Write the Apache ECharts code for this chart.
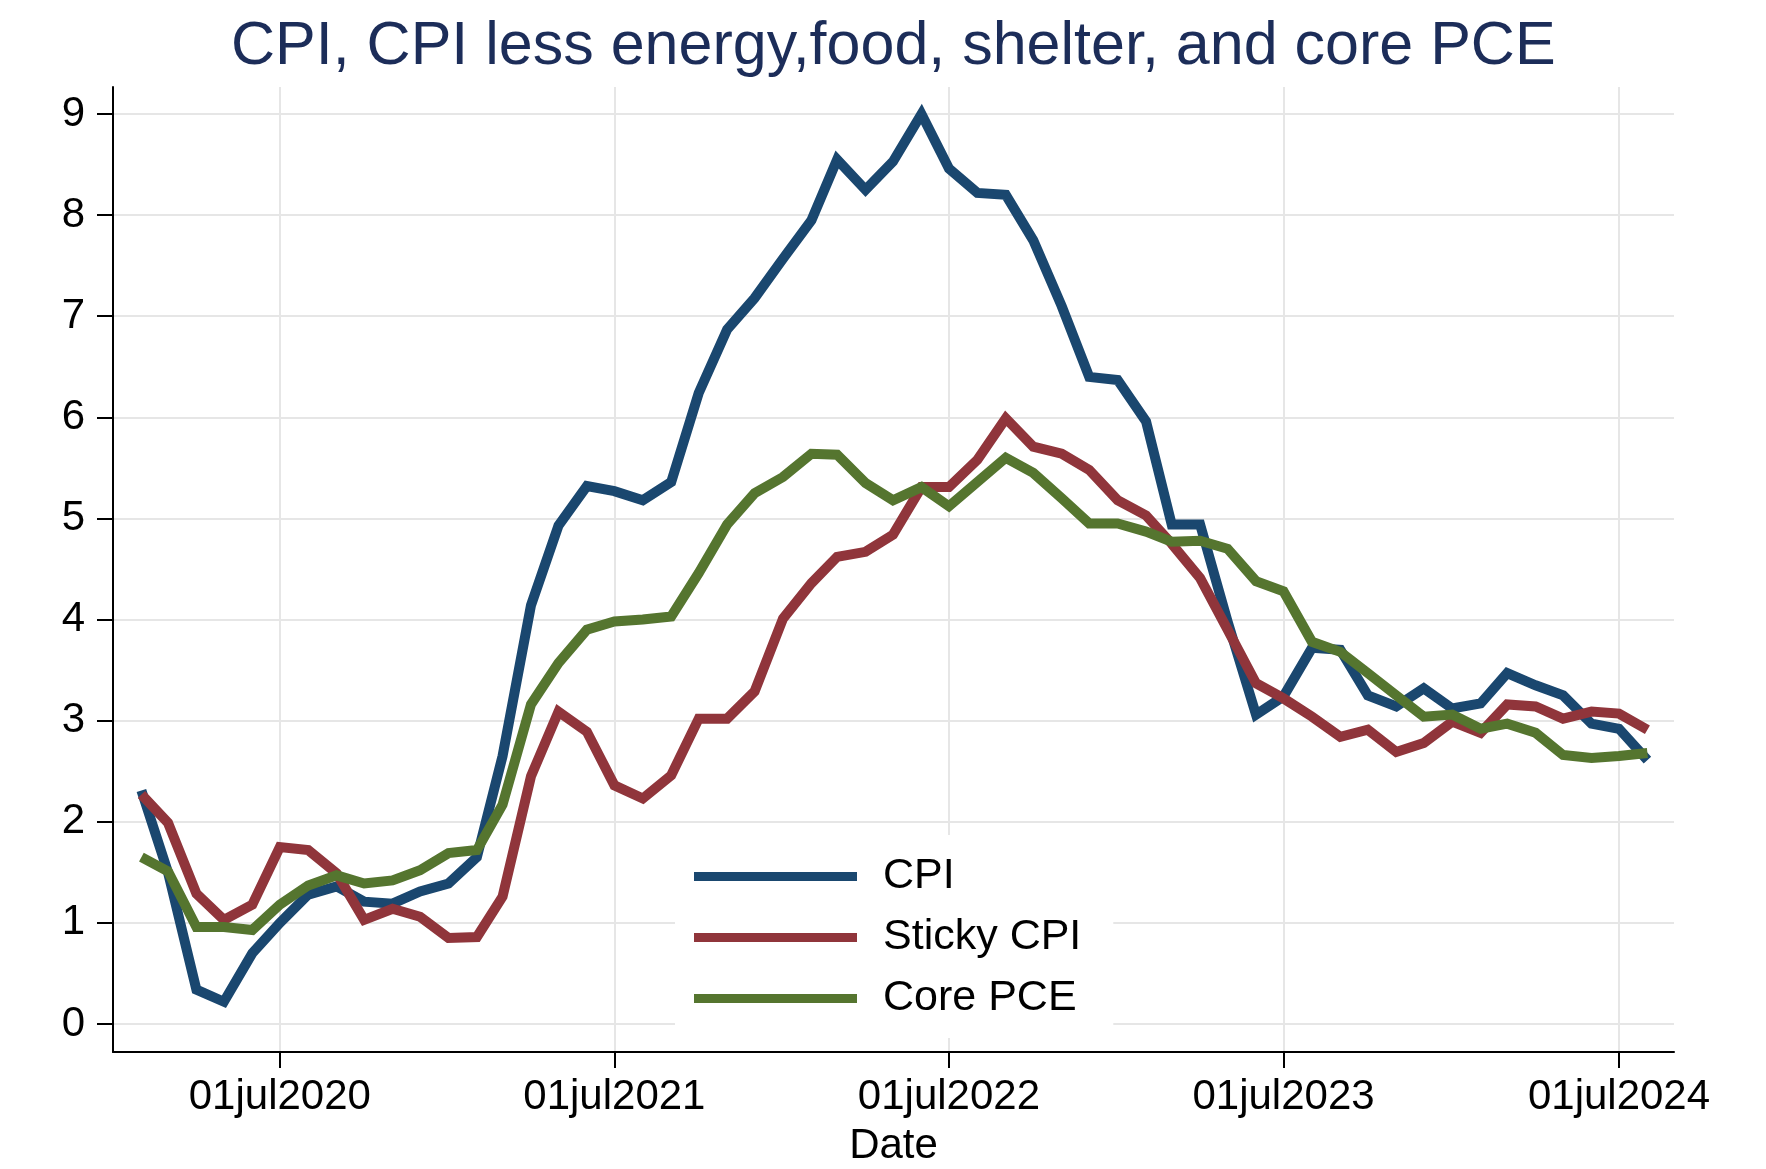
<!DOCTYPE html>
<html>
<head>
<meta charset="utf-8">
<script src="https://cdn.jsdelivr.net/npm/echarts@6/dist/echarts.min.js"></script>
<style>
html, body { margin: 0; padding: 0; background: #fff; }
#main { width: 1766px; height: 1169px; }
</style>
</head>
<body>
<div id="main"></div>
<script>
// monthly, Feb 2020 .. Aug 2024
var firstYear = 2020, firstMonth = 1; // Feb
var cpi = [
    2.31, 1.50, 0.34, 0.22, 0.70, 1.00, 1.28, 1.36, 1.21, 1.19, 1.31,
    1.39, 1.65, 2.65, 4.14, 4.93, 5.32, 5.27, 5.18, 5.36, 6.24, 6.87, 7.18,
    7.57, 7.95, 8.55, 8.25, 8.53, 9.00, 8.46, 8.22, 8.20, 7.75, 7.10, 6.40,
    6.37, 5.96, 4.94, 4.94, 3.98, 3.06, 3.24, 3.72, 3.70, 3.25, 3.14, 3.32,
    3.12, 3.17, 3.47, 3.35, 3.25, 2.97, 2.92, 2.61
];
var stickyCpi = [
    2.27, 1.99, 1.29, 1.03, 1.18, 1.75, 1.72, 1.49, 1.03, 1.14, 1.06,
    0.85, 0.86, 1.26, 2.45, 3.09, 2.89, 2.36, 2.23, 2.46, 3.02, 3.02, 3.29,
    4.01, 4.36, 4.62, 4.67, 4.84, 5.31, 5.31, 5.58, 5.99, 5.71, 5.64, 5.48,
    5.18, 5.03, 4.75, 4.41, 3.90, 3.37, 3.22, 3.04, 2.84, 2.91, 2.69, 2.78,
    2.99, 2.88, 3.16, 3.14, 3.02, 3.09, 3.07, 2.91
];
var corePce = [
    1.65, 1.51, 0.96, 0.96, 0.93, 1.18, 1.37, 1.47, 1.39, 1.42, 1.52,
    1.69, 1.72, 2.17, 3.16, 3.57, 3.90, 3.98, 4.00, 4.03, 4.46, 4.94, 5.25,
    5.41, 5.64, 5.63, 5.35, 5.18, 5.31, 5.12, 5.36, 5.60, 5.45, 5.20, 4.95,
    4.95, 4.87, 4.77, 4.78, 4.70, 4.38, 4.28, 3.78, 3.68, 3.47, 3.25, 3.04,
    3.06, 2.92, 2.97, 2.88, 2.66, 2.63, 2.65, 2.68
];
var seriesNames = ['CPI', 'Sticky CPI', 'Core PCE'];
var tickYears = [2020, 2021, 2022, 2023, 2024];
var tickLabels = ['01jul2020', '01jul2021', '01jul2022', '01jul2023', '01jul2024'];
var yTicks = [0, 1, 2, 3, 4, 5, 6, 7, 8, 9];

// x is a date in ms, on a plain value axis
var months = [];
for (var i = 0; i < cpi.length; i++) {
    months.push(new Date(firstYear, firstMonth + i, 1).getTime());
}
var tickTimes = tickYears.map(function (y) { return new Date(y, 6, 1).getTime(); });

function pairs(vals) {
    return vals.map(function (v, i) { return [months[i], v]; });
}

var font = 'Liberation Sans, Arial, Helvetica, sans-serif';
var gridColor = '#e6e6e6';

var myChart = echarts.init(document.getElementById('main'));
var option = {
    animation: false,
    color: ['#1a476f', '#90353b', '#55752f'],
    title: {
        text: 'CPI, CPI less energy,food, shelter, and core PCE',
        left: 231,
        top: 17,
        padding: 0,
        textStyle: { fontFamily: font, fontSize: 61, fontWeight: 'normal', color: '#1c2d59' }
    },
    legend: {
        data: seriesNames,
        orient: 'vertical',
        left: 675,
        top: 835,
        icon: 'rect',
        itemWidth: 163,
        itemHeight: 9,
        itemGap: 18,
        backgroundColor: '#fff',
        padding: [20, 32, 18, 19],
        textStyle: { fontFamily: font, fontSize: 43, color: '#000', padding: [0, 0, 0, 21] }
    },
    grid: {
        left: 113,
        right: 92,
        top: 87,
        bottom: 117,
        containLabel: false,
        outerBoundsMode: 'none'
    },
    xAxis: {
        type: 'value',
        min: new Date(2020, 0, 1).getTime(),
        max: new Date(2024, 7, 30).getTime(),
        name: 'Date',
        nameLocation: 'middle',
        nameGap: 73,
        nameTextStyle: { fontFamily: font, fontSize: 42, color: '#000' },
        axisLine: { onZero: false, lineStyle: { color: '#000', width: 2 } },
        axisTick: { customValues: tickTimes, length: 16, lineStyle: { color: '#000', width: 2 } },
        axisLabel: {
            customValues: tickTimes,
            fontFamily: font, fontSize: 42, color: '#000', margin: 24,
            formatter: function (val) {
                var k = tickTimes.indexOf(val);
                return k >= 0 ? tickLabels[k] : '';
            }
        },
        splitLine: { show: true, lineStyle: { color: gridColor, width: 2 } }
    },
    yAxis: {
        type: 'value',
        min: -0.277,
        max: 9.267,
        axisLine: { show: true, onZero: false, lineStyle: { color: '#000', width: 2 } },
        axisTick: { show: true, customValues: yTicks, length: 16, lineStyle: { color: '#000', width: 2 } },
        axisLabel: {
            customValues: yTicks,
            fontFamily: font, fontSize: 42, color: '#000', margin: 28
        },
        splitLine: { show: true, lineStyle: { color: gridColor, width: 2 } }
    },
    series: [
        {
            name: seriesNames[0],
            type: 'line',
            symbol: 'none',
            lineStyle: { width: 10, join: 'miter', cap: 'butt' },
            data: pairs(cpi)
        },
        {
            name: seriesNames[1],
            type: 'line',
            symbol: 'none',
            lineStyle: { width: 10, join: 'miter', cap: 'butt' },
            data: pairs(stickyCpi)
        },
        {
            name: seriesNames[2],
            type: 'line',
            symbol: 'none',
            lineStyle: { width: 10, join: 'miter', cap: 'butt' },
            data: pairs(corePce)
        }
    ]
};
myChart.setOption(option);
</script>
</body>
</html>
